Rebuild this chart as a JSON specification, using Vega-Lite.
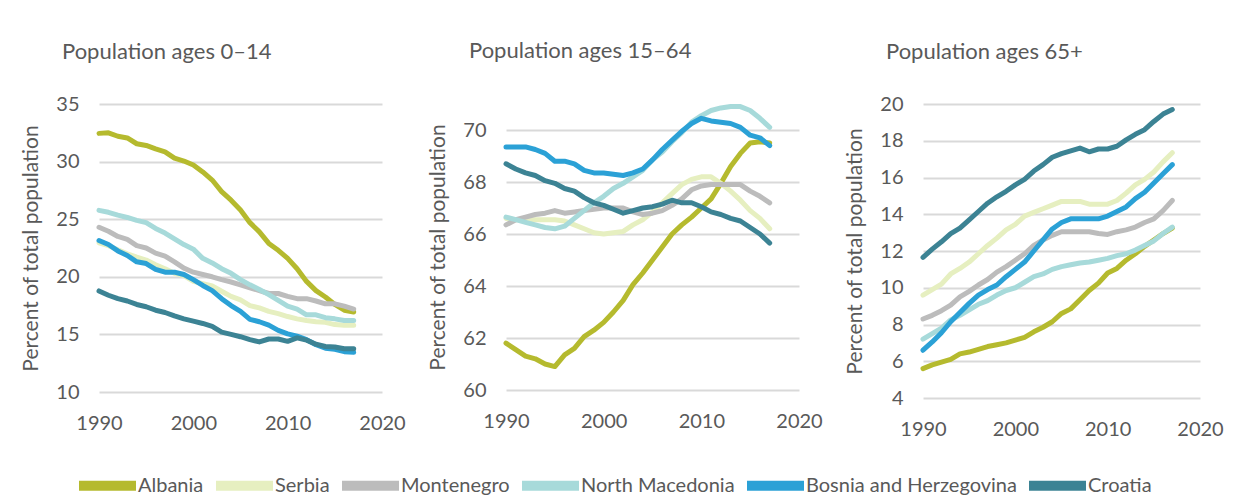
{
"$schema":"https://vega.github.io/schema/vega-lite/v6.json",
"background":"white",
"padding":{"left":20,"top":40,"right":5,"bottom":5},
"datasets":{"d":[
{"p":"a","c":"Albania","y":1990,"v":32.45},{"p":"a","c":"Albania","y":1991,"v":32.5},{"p":"a","c":"Albania","y":1992,"v":32.2},{"p":"a","c":"Albania","y":1993,"v":32.05},{"p":"a","c":"Albania","y":1994,"v":31.55},{"p":"a","c":"Albania","y":1995,"v":31.4},{"p":"a","c":"Albania","y":1996,"v":31.1},{"p":"a","c":"Albania","y":1997,"v":30.85},{"p":"a","c":"Albania","y":1998,"v":30.3},{"p":"a","c":"Albania","y":1999,"v":30.05},{"p":"a","c":"Albania","y":2000,"v":29.7},{"p":"a","c":"Albania","y":2001,"v":29.1},{"p":"a","c":"Albania","y":2002,"v":28.4},{"p":"a","c":"Albania","y":2003,"v":27.4},{"p":"a","c":"Albania","y":2004,"v":26.65},{"p":"a","c":"Albania","y":2005,"v":25.8},{"p":"a","c":"Albania","y":2006,"v":24.7},{"p":"a","c":"Albania","y":2007,"v":23.9},{"p":"a","c":"Albania","y":2008,"v":22.9},{"p":"a","c":"Albania","y":2009,"v":22.3},{"p":"a","c":"Albania","y":2010,"v":21.6},{"p":"a","c":"Albania","y":2011,"v":20.7},{"p":"a","c":"Albania","y":2012,"v":19.6},{"p":"a","c":"Albania","y":2013,"v":18.8},{"p":"a","c":"Albania","y":2014,"v":18.25},{"p":"a","c":"Albania","y":2015,"v":17.6},{"p":"a","c":"Albania","y":2016,"v":17.1},{"p":"a","c":"Albania","y":2017,"v":16.95},
{"p":"a","c":"Serbia","y":1990,"v":22.95},{"p":"a","c":"Serbia","y":1991,"v":22.7},{"p":"a","c":"Serbia","y":1992,"v":22.35},{"p":"a","c":"Serbia","y":1993,"v":22.0},{"p":"a","c":"Serbia","y":1994,"v":21.7},{"p":"a","c":"Serbia","y":1995,"v":21.45},{"p":"a","c":"Serbia","y":1996,"v":21.05},{"p":"a","c":"Serbia","y":1997,"v":20.7},{"p":"a","c":"Serbia","y":1998,"v":20.3},{"p":"a","c":"Serbia","y":1999,"v":20.1},{"p":"a","c":"Serbia","y":2000,"v":19.6},{"p":"a","c":"Serbia","y":2001,"v":19.4},{"p":"a","c":"Serbia","y":2002,"v":19.2},{"p":"a","c":"Serbia","y":2003,"v":18.75},{"p":"a","c":"Serbia","y":2004,"v":18.3},{"p":"a","c":"Serbia","y":2005,"v":18.0},{"p":"a","c":"Serbia","y":2006,"v":17.5},{"p":"a","c":"Serbia","y":2007,"v":17.3},{"p":"a","c":"Serbia","y":2008,"v":17.0},{"p":"a","c":"Serbia","y":2009,"v":16.8},{"p":"a","c":"Serbia","y":2010,"v":16.55},{"p":"a","c":"Serbia","y":2011,"v":16.35},{"p":"a","c":"Serbia","y":2012,"v":16.2},{"p":"a","c":"Serbia","y":2013,"v":16.1},{"p":"a","c":"Serbia","y":2014,"v":16.05},{"p":"a","c":"Serbia","y":2015,"v":15.85},{"p":"a","c":"Serbia","y":2016,"v":15.8},{"p":"a","c":"Serbia","y":2017,"v":15.8},
{"p":"a","c":"Montenegro","y":1990,"v":24.3},{"p":"a","c":"Montenegro","y":1991,"v":23.95},{"p":"a","c":"Montenegro","y":1992,"v":23.5},{"p":"a","c":"Montenegro","y":1993,"v":23.25},{"p":"a","c":"Montenegro","y":1994,"v":22.7},{"p":"a","c":"Montenegro","y":1995,"v":22.5},{"p":"a","c":"Montenegro","y":1996,"v":22.05},{"p":"a","c":"Montenegro","y":1997,"v":21.8},{"p":"a","c":"Montenegro","y":1998,"v":21.3},{"p":"a","c":"Montenegro","y":1999,"v":20.75},{"p":"a","c":"Montenegro","y":2000,"v":20.4},{"p":"a","c":"Montenegro","y":2001,"v":20.2},{"p":"a","c":"Montenegro","y":2002,"v":20.0},{"p":"a","c":"Montenegro","y":2003,"v":19.75},{"p":"a","c":"Montenegro","y":2004,"v":19.55},{"p":"a","c":"Montenegro","y":2005,"v":19.3},{"p":"a","c":"Montenegro","y":2006,"v":19.05},{"p":"a","c":"Montenegro","y":2007,"v":18.8},{"p":"a","c":"Montenegro","y":2008,"v":18.55},{"p":"a","c":"Montenegro","y":2009,"v":18.55},{"p":"a","c":"Montenegro","y":2010,"v":18.3},{"p":"a","c":"Montenegro","y":2011,"v":18.1},{"p":"a","c":"Montenegro","y":2012,"v":18.1},{"p":"a","c":"Montenegro","y":2013,"v":17.9},{"p":"a","c":"Montenegro","y":2014,"v":17.65},{"p":"a","c":"Montenegro","y":2015,"v":17.65},{"p":"a","c":"Montenegro","y":2016,"v":17.45},{"p":"a","c":"Montenegro","y":2017,"v":17.2},
{"p":"a","c":"North Macedonia","y":1990,"v":25.77},{"p":"a","c":"North Macedonia","y":1991,"v":25.6},{"p":"a","c":"North Macedonia","y":1992,"v":25.35},{"p":"a","c":"North Macedonia","y":1993,"v":25.15},{"p":"a","c":"North Macedonia","y":1994,"v":24.9},{"p":"a","c":"North Macedonia","y":1995,"v":24.7},{"p":"a","c":"North Macedonia","y":1996,"v":24.2},{"p":"a","c":"North Macedonia","y":1997,"v":23.8},{"p":"a","c":"North Macedonia","y":1998,"v":23.3},{"p":"a","c":"North Macedonia","y":1999,"v":22.8},{"p":"a","c":"North Macedonia","y":2000,"v":22.4},{"p":"a","c":"North Macedonia","y":2001,"v":21.6},{"p":"a","c":"North Macedonia","y":2002,"v":21.2},{"p":"a","c":"North Macedonia","y":2003,"v":20.7},{"p":"a","c":"North Macedonia","y":2004,"v":20.3},{"p":"a","c":"North Macedonia","y":2005,"v":19.75},{"p":"a","c":"North Macedonia","y":2006,"v":19.3},{"p":"a","c":"North Macedonia","y":2007,"v":18.9},{"p":"a","c":"North Macedonia","y":2008,"v":18.45},{"p":"a","c":"North Macedonia","y":2009,"v":17.95},{"p":"a","c":"North Macedonia","y":2010,"v":17.45},{"p":"a","c":"North Macedonia","y":2011,"v":17.2},{"p":"a","c":"North Macedonia","y":2012,"v":16.7},{"p":"a","c":"North Macedonia","y":2013,"v":16.7},{"p":"a","c":"North Macedonia","y":2014,"v":16.45},{"p":"a","c":"North Macedonia","y":2015,"v":16.35},{"p":"a","c":"North Macedonia","y":2016,"v":16.2},{"p":"a","c":"North Macedonia","y":2017,"v":16.2},
{"p":"a","c":"Bosnia and Herzegovina","y":1990,"v":23.15},{"p":"a","c":"Bosnia and Herzegovina","y":1991,"v":22.8},{"p":"a","c":"Bosnia and Herzegovina","y":1992,"v":22.25},{"p":"a","c":"Bosnia and Herzegovina","y":1993,"v":21.85},{"p":"a","c":"Bosnia and Herzegovina","y":1994,"v":21.3},{"p":"a","c":"Bosnia and Herzegovina","y":1995,"v":21.15},{"p":"a","c":"Bosnia and Herzegovina","y":1996,"v":20.65},{"p":"a","c":"Bosnia and Herzegovina","y":1997,"v":20.4},{"p":"a","c":"Bosnia and Herzegovina","y":1998,"v":20.4},{"p":"a","c":"Bosnia and Herzegovina","y":1999,"v":20.2},{"p":"a","c":"Bosnia and Herzegovina","y":2000,"v":19.75},{"p":"a","c":"Bosnia and Herzegovina","y":2001,"v":19.25},{"p":"a","c":"Bosnia and Herzegovina","y":2002,"v":18.8},{"p":"a","c":"Bosnia and Herzegovina","y":2003,"v":18.1},{"p":"a","c":"Bosnia and Herzegovina","y":2004,"v":17.5},{"p":"a","c":"Bosnia and Herzegovina","y":2005,"v":17.0},{"p":"a","c":"Bosnia and Herzegovina","y":2006,"v":16.3},{"p":"a","c":"Bosnia and Herzegovina","y":2007,"v":16.1},{"p":"a","c":"Bosnia and Herzegovina","y":2008,"v":15.8},{"p":"a","c":"Bosnia and Herzegovina","y":2009,"v":15.35},{"p":"a","c":"Bosnia and Herzegovina","y":2010,"v":15.05},{"p":"a","c":"Bosnia and Herzegovina","y":2011,"v":14.85},{"p":"a","c":"Bosnia and Herzegovina","y":2012,"v":14.55},{"p":"a","c":"Bosnia and Herzegovina","y":2013,"v":14.1},{"p":"a","c":"Bosnia and Herzegovina","y":2014,"v":13.8},{"p":"a","c":"Bosnia and Herzegovina","y":2015,"v":13.7},{"p":"a","c":"Bosnia and Herzegovina","y":2016,"v":13.5},{"p":"a","c":"Bosnia and Herzegovina","y":2017,"v":13.45},
{"p":"a","c":"Croatia","y":1990,"v":18.77},{"p":"a","c":"Croatia","y":1991,"v":18.4},{"p":"a","c":"Croatia","y":1992,"v":18.1},{"p":"a","c":"Croatia","y":1993,"v":17.9},{"p":"a","c":"Croatia","y":1994,"v":17.6},{"p":"a","c":"Croatia","y":1995,"v":17.4},{"p":"a","c":"Croatia","y":1996,"v":17.1},{"p":"a","c":"Croatia","y":1997,"v":16.9},{"p":"a","c":"Croatia","y":1998,"v":16.6},{"p":"a","c":"Croatia","y":1999,"v":16.35},{"p":"a","c":"Croatia","y":2000,"v":16.15},{"p":"a","c":"Croatia","y":2001,"v":15.95},{"p":"a","c":"Croatia","y":2002,"v":15.7},{"p":"a","c":"Croatia","y":2003,"v":15.2},{"p":"a","c":"Croatia","y":2004,"v":15.0},{"p":"a","c":"Croatia","y":2005,"v":14.8},{"p":"a","c":"Croatia","y":2006,"v":14.55},{"p":"a","c":"Croatia","y":2007,"v":14.35},{"p":"a","c":"Croatia","y":2008,"v":14.6},{"p":"a","c":"Croatia","y":2009,"v":14.6},{"p":"a","c":"Croatia","y":2010,"v":14.4},{"p":"a","c":"Croatia","y":2011,"v":14.7},{"p":"a","c":"Croatia","y":2012,"v":14.5},{"p":"a","c":"Croatia","y":2013,"v":14.15},{"p":"a","c":"Croatia","y":2014,"v":13.95},{"p":"a","c":"Croatia","y":2015,"v":13.9},{"p":"a","c":"Croatia","y":2016,"v":13.75},{"p":"a","c":"Croatia","y":2017,"v":13.75},
{"p":"b","c":"Albania","y":1990,"v":61.8},{"p":"b","c":"Albania","y":1991,"v":61.55},{"p":"b","c":"Albania","y":1992,"v":61.3},{"p":"b","c":"Albania","y":1993,"v":61.2},{"p":"b","c":"Albania","y":1994,"v":61.0},{"p":"b","c":"Albania","y":1995,"v":60.9},{"p":"b","c":"Albania","y":1996,"v":61.35},{"p":"b","c":"Albania","y":1997,"v":61.6},{"p":"b","c":"Albania","y":1998,"v":62.05},{"p":"b","c":"Albania","y":1999,"v":62.3},{"p":"b","c":"Albania","y":2000,"v":62.6},{"p":"b","c":"Albania","y":2001,"v":63.0},{"p":"b","c":"Albania","y":2002,"v":63.45},{"p":"b","c":"Albania","y":2003,"v":64.05},{"p":"b","c":"Albania","y":2004,"v":64.5},{"p":"b","c":"Albania","y":2005,"v":65.0},{"p":"b","c":"Albania","y":2006,"v":65.5},{"p":"b","c":"Albania","y":2007,"v":66.0},{"p":"b","c":"Albania","y":2008,"v":66.35},{"p":"b","c":"Albania","y":2009,"v":66.65},{"p":"b","c":"Albania","y":2010,"v":67.0},{"p":"b","c":"Albania","y":2011,"v":67.35},{"p":"b","c":"Albania","y":2012,"v":67.95},{"p":"b","c":"Albania","y":2013,"v":68.6},{"p":"b","c":"Albania","y":2014,"v":69.1},{"p":"b","c":"Albania","y":2015,"v":69.5},{"p":"b","c":"Albania","y":2016,"v":69.55},{"p":"b","c":"Albania","y":2017,"v":69.5},
{"p":"b","c":"Serbia","y":1990,"v":66.6},{"p":"b","c":"Serbia","y":1991,"v":66.55},{"p":"b","c":"Serbia","y":1992,"v":66.55},{"p":"b","c":"Serbia","y":1993,"v":66.55},{"p":"b","c":"Serbia","y":1994,"v":66.55},{"p":"b","c":"Serbia","y":1995,"v":66.55},{"p":"b","c":"Serbia","y":1996,"v":66.5},{"p":"b","c":"Serbia","y":1997,"v":66.35},{"p":"b","c":"Serbia","y":1998,"v":66.2},{"p":"b","c":"Serbia","y":1999,"v":66.05},{"p":"b","c":"Serbia","y":2000,"v":66.0},{"p":"b","c":"Serbia","y":2001,"v":66.05},{"p":"b","c":"Serbia","y":2002,"v":66.1},{"p":"b","c":"Serbia","y":2003,"v":66.35},{"p":"b","c":"Serbia","y":2004,"v":66.55},{"p":"b","c":"Serbia","y":2005,"v":66.85},{"p":"b","c":"Serbia","y":2006,"v":67.2},{"p":"b","c":"Serbia","y":2007,"v":67.55},{"p":"b","c":"Serbia","y":2008,"v":67.9},{"p":"b","c":"Serbia","y":2009,"v":68.1},{"p":"b","c":"Serbia","y":2010,"v":68.2},{"p":"b","c":"Serbia","y":2011,"v":68.2},{"p":"b","c":"Serbia","y":2012,"v":67.95},{"p":"b","c":"Serbia","y":2013,"v":67.65},{"p":"b","c":"Serbia","y":2014,"v":67.3},{"p":"b","c":"Serbia","y":2015,"v":66.9},{"p":"b","c":"Serbia","y":2016,"v":66.6},{"p":"b","c":"Serbia","y":2017,"v":66.2},
{"p":"b","c":"Montenegro","y":1990,"v":66.35},{"p":"b","c":"Montenegro","y":1991,"v":66.55},{"p":"b","c":"Montenegro","y":1992,"v":66.65},{"p":"b","c":"Montenegro","y":1993,"v":66.75},{"p":"b","c":"Montenegro","y":1994,"v":66.8},{"p":"b","c":"Montenegro","y":1995,"v":66.9},{"p":"b","c":"Montenegro","y":1996,"v":66.8},{"p":"b","c":"Montenegro","y":1997,"v":66.85},{"p":"b","c":"Montenegro","y":1998,"v":66.9},{"p":"b","c":"Montenegro","y":1999,"v":66.95},{"p":"b","c":"Montenegro","y":2000,"v":67.0},{"p":"b","c":"Montenegro","y":2001,"v":67.0},{"p":"b","c":"Montenegro","y":2002,"v":67.0},{"p":"b","c":"Montenegro","y":2003,"v":66.85},{"p":"b","c":"Montenegro","y":2004,"v":66.75},{"p":"b","c":"Montenegro","y":2005,"v":66.8},{"p":"b","c":"Montenegro","y":2006,"v":66.9},{"p":"b","c":"Montenegro","y":2007,"v":67.1},{"p":"b","c":"Montenegro","y":2008,"v":67.35},{"p":"b","c":"Montenegro","y":2009,"v":67.7},{"p":"b","c":"Montenegro","y":2010,"v":67.85},{"p":"b","c":"Montenegro","y":2011,"v":67.9},{"p":"b","c":"Montenegro","y":2012,"v":67.9},{"p":"b","c":"Montenegro","y":2013,"v":67.9},{"p":"b","c":"Montenegro","y":2014,"v":67.9},{"p":"b","c":"Montenegro","y":2015,"v":67.65},{"p":"b","c":"Montenegro","y":2016,"v":67.45},{"p":"b","c":"Montenegro","y":2017,"v":67.2},
{"p":"b","c":"North Macedonia","y":1990,"v":66.65},{"p":"b","c":"North Macedonia","y":1991,"v":66.55},{"p":"b","c":"North Macedonia","y":1992,"v":66.45},{"p":"b","c":"North Macedonia","y":1993,"v":66.35},{"p":"b","c":"North Macedonia","y":1994,"v":66.25},{"p":"b","c":"North Macedonia","y":1995,"v":66.2},{"p":"b","c":"North Macedonia","y":1996,"v":66.3},{"p":"b","c":"North Macedonia","y":1997,"v":66.6},{"p":"b","c":"North Macedonia","y":1998,"v":66.9},{"p":"b","c":"North Macedonia","y":1999,"v":67.2},{"p":"b","c":"North Macedonia","y":2000,"v":67.45},{"p":"b","c":"North Macedonia","y":2001,"v":67.75},{"p":"b","c":"North Macedonia","y":2002,"v":67.95},{"p":"b","c":"North Macedonia","y":2003,"v":68.2},{"p":"b","c":"North Macedonia","y":2004,"v":68.45},{"p":"b","c":"North Macedonia","y":2005,"v":68.85},{"p":"b","c":"North Macedonia","y":2006,"v":69.15},{"p":"b","c":"North Macedonia","y":2007,"v":69.55},{"p":"b","c":"North Macedonia","y":2008,"v":69.9},{"p":"b","c":"North Macedonia","y":2009,"v":70.3},{"p":"b","c":"North Macedonia","y":2010,"v":70.55},{"p":"b","c":"North Macedonia","y":2011,"v":70.75},{"p":"b","c":"North Macedonia","y":2012,"v":70.85},{"p":"b","c":"North Macedonia","y":2013,"v":70.9},{"p":"b","c":"North Macedonia","y":2014,"v":70.9},{"p":"b","c":"North Macedonia","y":2015,"v":70.75},{"p":"b","c":"North Macedonia","y":2016,"v":70.45},{"p":"b","c":"North Macedonia","y":2017,"v":70.1},
{"p":"b","c":"Bosnia and Herzegovina","y":1990,"v":69.35},{"p":"b","c":"Bosnia and Herzegovina","y":1991,"v":69.35},{"p":"b","c":"Bosnia and Herzegovina","y":1992,"v":69.35},{"p":"b","c":"Bosnia and Herzegovina","y":1993,"v":69.25},{"p":"b","c":"Bosnia and Herzegovina","y":1994,"v":69.1},{"p":"b","c":"Bosnia and Herzegovina","y":1995,"v":68.8},{"p":"b","c":"Bosnia and Herzegovina","y":1996,"v":68.8},{"p":"b","c":"Bosnia and Herzegovina","y":1997,"v":68.7},{"p":"b","c":"Bosnia and Herzegovina","y":1998,"v":68.45},{"p":"b","c":"Bosnia and Herzegovina","y":1999,"v":68.35},{"p":"b","c":"Bosnia and Herzegovina","y":2000,"v":68.35},{"p":"b","c":"Bosnia and Herzegovina","y":2001,"v":68.3},{"p":"b","c":"Bosnia and Herzegovina","y":2002,"v":68.25},{"p":"b","c":"Bosnia and Herzegovina","y":2003,"v":68.35},{"p":"b","c":"Bosnia and Herzegovina","y":2004,"v":68.5},{"p":"b","c":"Bosnia and Herzegovina","y":2005,"v":68.85},{"p":"b","c":"Bosnia and Herzegovina","y":2006,"v":69.25},{"p":"b","c":"Bosnia and Herzegovina","y":2007,"v":69.6},{"p":"b","c":"Bosnia and Herzegovina","y":2008,"v":69.95},{"p":"b","c":"Bosnia and Herzegovina","y":2009,"v":70.25},{"p":"b","c":"Bosnia and Herzegovina","y":2010,"v":70.45},{"p":"b","c":"Bosnia and Herzegovina","y":2011,"v":70.35},{"p":"b","c":"Bosnia and Herzegovina","y":2012,"v":70.3},{"p":"b","c":"Bosnia and Herzegovina","y":2013,"v":70.25},{"p":"b","c":"Bosnia and Herzegovina","y":2014,"v":70.1},{"p":"b","c":"Bosnia and Herzegovina","y":2015,"v":69.8},{"p":"b","c":"Bosnia and Herzegovina","y":2016,"v":69.7},{"p":"b","c":"Bosnia and Herzegovina","y":2017,"v":69.4},
{"p":"b","c":"Croatia","y":1990,"v":68.7},{"p":"b","c":"Croatia","y":1991,"v":68.5},{"p":"b","c":"Croatia","y":1992,"v":68.35},{"p":"b","c":"Croatia","y":1993,"v":68.25},{"p":"b","c":"Croatia","y":1994,"v":68.05},{"p":"b","c":"Croatia","y":1995,"v":67.95},{"p":"b","c":"Croatia","y":1996,"v":67.75},{"p":"b","c":"Croatia","y":1997,"v":67.65},{"p":"b","c":"Croatia","y":1998,"v":67.4},{"p":"b","c":"Croatia","y":1999,"v":67.2},{"p":"b","c":"Croatia","y":2000,"v":67.1},{"p":"b","c":"Croatia","y":2001,"v":66.95},{"p":"b","c":"Croatia","y":2002,"v":66.8},{"p":"b","c":"Croatia","y":2003,"v":66.9},{"p":"b","c":"Croatia","y":2004,"v":67.0},{"p":"b","c":"Croatia","y":2005,"v":67.05},{"p":"b","c":"Croatia","y":2006,"v":67.15},{"p":"b","c":"Croatia","y":2007,"v":67.3},{"p":"b","c":"Croatia","y":2008,"v":67.2},{"p":"b","c":"Croatia","y":2009,"v":67.2},{"p":"b","c":"Croatia","y":2010,"v":67.05},{"p":"b","c":"Croatia","y":2011,"v":66.85},{"p":"b","c":"Croatia","y":2012,"v":66.75},{"p":"b","c":"Croatia","y":2013,"v":66.6},{"p":"b","c":"Croatia","y":2014,"v":66.5},{"p":"b","c":"Croatia","y":2015,"v":66.25},{"p":"b","c":"Croatia","y":2016,"v":66.0},{"p":"b","c":"Croatia","y":2017,"v":65.65},
{"p":"c","c":"Albania","y":1990,"v":5.6},{"p":"c","c":"Albania","y":1991,"v":5.8},{"p":"c","c":"Albania","y":1992,"v":5.95},{"p":"c","c":"Albania","y":1993,"v":6.1},{"p":"c","c":"Albania","y":1994,"v":6.4},{"p":"c","c":"Albania","y":1995,"v":6.5},{"p":"c","c":"Albania","y":1996,"v":6.65},{"p":"c","c":"Albania","y":1997,"v":6.8},{"p":"c","c":"Albania","y":1998,"v":6.9},{"p":"c","c":"Albania","y":1999,"v":7.0},{"p":"c","c":"Albania","y":2000,"v":7.15},{"p":"c","c":"Albania","y":2001,"v":7.3},{"p":"c","c":"Albania","y":2002,"v":7.6},{"p":"c","c":"Albania","y":2003,"v":7.85},{"p":"c","c":"Albania","y":2004,"v":8.15},{"p":"c","c":"Albania","y":2005,"v":8.6},{"p":"c","c":"Albania","y":2006,"v":8.85},{"p":"c","c":"Albania","y":2007,"v":9.35},{"p":"c","c":"Albania","y":2008,"v":9.85},{"p":"c","c":"Albania","y":2009,"v":10.25},{"p":"c","c":"Albania","y":2010,"v":10.8},{"p":"c","c":"Albania","y":2011,"v":11.05},{"p":"c","c":"Albania","y":2012,"v":11.5},{"p":"c","c":"Albania","y":2013,"v":11.85},{"p":"c","c":"Albania","y":2014,"v":12.25},{"p":"c","c":"Albania","y":2015,"v":12.6},{"p":"c","c":"Albania","y":2016,"v":12.95},{"p":"c","c":"Albania","y":2017,"v":13.25},
{"p":"c","c":"Serbia","y":1990,"v":9.6},{"p":"c","c":"Serbia","y":1991,"v":9.9},{"p":"c","c":"Serbia","y":1992,"v":10.2},{"p":"c","c":"Serbia","y":1993,"v":10.75},{"p":"c","c":"Serbia","y":1994,"v":11.05},{"p":"c","c":"Serbia","y":1995,"v":11.4},{"p":"c","c":"Serbia","y":1996,"v":11.85},{"p":"c","c":"Serbia","y":1997,"v":12.3},{"p":"c","c":"Serbia","y":1998,"v":12.7},{"p":"c","c":"Serbia","y":1999,"v":13.15},{"p":"c","c":"Serbia","y":2000,"v":13.45},{"p":"c","c":"Serbia","y":2001,"v":13.9},{"p":"c","c":"Serbia","y":2002,"v":14.1},{"p":"c","c":"Serbia","y":2003,"v":14.3},{"p":"c","c":"Serbia","y":2004,"v":14.5},{"p":"c","c":"Serbia","y":2005,"v":14.7},{"p":"c","c":"Serbia","y":2006,"v":14.7},{"p":"c","c":"Serbia","y":2007,"v":14.7},{"p":"c","c":"Serbia","y":2008,"v":14.55},{"p":"c","c":"Serbia","y":2009,"v":14.55},{"p":"c","c":"Serbia","y":2010,"v":14.55},{"p":"c","c":"Serbia","y":2011,"v":14.75},{"p":"c","c":"Serbia","y":2012,"v":15.15},{"p":"c","c":"Serbia","y":2013,"v":15.6},{"p":"c","c":"Serbia","y":2014,"v":15.9},{"p":"c","c":"Serbia","y":2015,"v":16.3},{"p":"c","c":"Serbia","y":2016,"v":16.85},{"p":"c","c":"Serbia","y":2017,"v":17.35},
{"p":"c","c":"Montenegro","y":1990,"v":8.3},{"p":"c","c":"Montenegro","y":1991,"v":8.5},{"p":"c","c":"Montenegro","y":1992,"v":8.75},{"p":"c","c":"Montenegro","y":1993,"v":9.05},{"p":"c","c":"Montenegro","y":1994,"v":9.5},{"p":"c","c":"Montenegro","y":1995,"v":9.8},{"p":"c","c":"Montenegro","y":1996,"v":10.15},{"p":"c","c":"Montenegro","y":1997,"v":10.45},{"p":"c","c":"Montenegro","y":1998,"v":10.85},{"p":"c","c":"Montenegro","y":1999,"v":11.15},{"p":"c","c":"Montenegro","y":2000,"v":11.5},{"p":"c","c":"Montenegro","y":2001,"v":11.85},{"p":"c","c":"Montenegro","y":2002,"v":12.3},{"p":"c","c":"Montenegro","y":2003,"v":12.6},{"p":"c","c":"Montenegro","y":2004,"v":12.85},{"p":"c","c":"Montenegro","y":2005,"v":13.05},{"p":"c","c":"Montenegro","y":2006,"v":13.05},{"p":"c","c":"Montenegro","y":2007,"v":13.05},{"p":"c","c":"Montenegro","y":2008,"v":13.05},{"p":"c","c":"Montenegro","y":2009,"v":12.95},{"p":"c","c":"Montenegro","y":2010,"v":12.9},{"p":"c","c":"Montenegro","y":2011,"v":13.05},{"p":"c","c":"Montenegro","y":2012,"v":13.15},{"p":"c","c":"Montenegro","y":2013,"v":13.3},{"p":"c","c":"Montenegro","y":2014,"v":13.55},{"p":"c","c":"Montenegro","y":2015,"v":13.75},{"p":"c","c":"Montenegro","y":2016,"v":14.2},{"p":"c","c":"Montenegro","y":2017,"v":14.75},
{"p":"c","c":"North Macedonia","y":1990,"v":7.2},{"p":"c","c":"North Macedonia","y":1991,"v":7.5},{"p":"c","c":"North Macedonia","y":1992,"v":7.8},{"p":"c","c":"North Macedonia","y":1993,"v":8.25},{"p":"c","c":"North Macedonia","y":1994,"v":8.5},{"p":"c","c":"North Macedonia","y":1995,"v":8.8},{"p":"c","c":"North Macedonia","y":1996,"v":9.1},{"p":"c","c":"North Macedonia","y":1997,"v":9.3},{"p":"c","c":"North Macedonia","y":1998,"v":9.6},{"p":"c","c":"North Macedonia","y":1999,"v":9.85},{"p":"c","c":"North Macedonia","y":2000,"v":10.0},{"p":"c","c":"North Macedonia","y":2001,"v":10.3},{"p":"c","c":"North Macedonia","y":2002,"v":10.6},{"p":"c","c":"North Macedonia","y":2003,"v":10.75},{"p":"c","c":"North Macedonia","y":2004,"v":11.0},{"p":"c","c":"North Macedonia","y":2005,"v":11.15},{"p":"c","c":"North Macedonia","y":2006,"v":11.25},{"p":"c","c":"North Macedonia","y":2007,"v":11.35},{"p":"c","c":"North Macedonia","y":2008,"v":11.4},{"p":"c","c":"North Macedonia","y":2009,"v":11.5},{"p":"c","c":"North Macedonia","y":2010,"v":11.6},{"p":"c","c":"North Macedonia","y":2011,"v":11.75},{"p":"c","c":"North Macedonia","y":2012,"v":11.85},{"p":"c","c":"North Macedonia","y":2013,"v":12.05},{"p":"c","c":"North Macedonia","y":2014,"v":12.3},{"p":"c","c":"North Macedonia","y":2015,"v":12.55},{"p":"c","c":"North Macedonia","y":2016,"v":12.95},{"p":"c","c":"North Macedonia","y":2017,"v":13.3},
{"p":"c","c":"Bosnia and Herzegovina","y":1990,"v":6.6},{"p":"c","c":"Bosnia and Herzegovina","y":1991,"v":7.05},{"p":"c","c":"Bosnia and Herzegovina","y":1992,"v":7.55},{"p":"c","c":"Bosnia and Herzegovina","y":1993,"v":8.15},{"p":"c","c":"Bosnia and Herzegovina","y":1994,"v":8.65},{"p":"c","c":"Bosnia and Herzegovina","y":1995,"v":9.15},{"p":"c","c":"Bosnia and Herzegovina","y":1996,"v":9.6},{"p":"c","c":"Bosnia and Herzegovina","y":1997,"v":9.9},{"p":"c","c":"Bosnia and Herzegovina","y":1998,"v":10.15},{"p":"c","c":"Bosnia and Herzegovina","y":1999,"v":10.6},{"p":"c","c":"Bosnia and Herzegovina","y":2000,"v":11.0},{"p":"c","c":"Bosnia and Herzegovina","y":2001,"v":11.4},{"p":"c","c":"Bosnia and Herzegovina","y":2002,"v":12.0},{"p":"c","c":"Bosnia and Herzegovina","y":2003,"v":12.6},{"p":"c","c":"Bosnia and Herzegovina","y":2004,"v":13.2},{"p":"c","c":"Bosnia and Herzegovina","y":2005,"v":13.55},{"p":"c","c":"Bosnia and Herzegovina","y":2006,"v":13.75},{"p":"c","c":"Bosnia and Herzegovina","y":2007,"v":13.75},{"p":"c","c":"Bosnia and Herzegovina","y":2008,"v":13.75},{"p":"c","c":"Bosnia and Herzegovina","y":2009,"v":13.75},{"p":"c","c":"Bosnia and Herzegovina","y":2010,"v":13.9},{"p":"c","c":"Bosnia and Herzegovina","y":2011,"v":14.15},{"p":"c","c":"Bosnia and Herzegovina","y":2012,"v":14.4},{"p":"c","c":"Bosnia and Herzegovina","y":2013,"v":14.85},{"p":"c","c":"Bosnia and Herzegovina","y":2014,"v":15.2},{"p":"c","c":"Bosnia and Herzegovina","y":2015,"v":15.7},{"p":"c","c":"Bosnia and Herzegovina","y":2016,"v":16.2},{"p":"c","c":"Bosnia and Herzegovina","y":2017,"v":16.7},
{"p":"c","c":"Croatia","y":1990,"v":11.65},{"p":"c","c":"Croatia","y":1991,"v":12.1},{"p":"c","c":"Croatia","y":1992,"v":12.5},{"p":"c","c":"Croatia","y":1993,"v":12.95},{"p":"c","c":"Croatia","y":1994,"v":13.25},{"p":"c","c":"Croatia","y":1995,"v":13.7},{"p":"c","c":"Croatia","y":1996,"v":14.15},{"p":"c","c":"Croatia","y":1997,"v":14.6},{"p":"c","c":"Croatia","y":1998,"v":14.95},{"p":"c","c":"Croatia","y":1999,"v":15.25},{"p":"c","c":"Croatia","y":2000,"v":15.6},{"p":"c","c":"Croatia","y":2001,"v":15.9},{"p":"c","c":"Croatia","y":2002,"v":16.35},{"p":"c","c":"Croatia","y":2003,"v":16.7},{"p":"c","c":"Croatia","y":2004,"v":17.1},{"p":"c","c":"Croatia","y":2005,"v":17.3},{"p":"c","c":"Croatia","y":2006,"v":17.45},{"p":"c","c":"Croatia","y":2007,"v":17.6},{"p":"c","c":"Croatia","y":2008,"v":17.4},{"p":"c","c":"Croatia","y":2009,"v":17.55},{"p":"c","c":"Croatia","y":2010,"v":17.55},{"p":"c","c":"Croatia","y":2011,"v":17.7},{"p":"c","c":"Croatia","y":2012,"v":18.05},{"p":"c","c":"Croatia","y":2013,"v":18.35},{"p":"c","c":"Croatia","y":2014,"v":18.6},{"p":"c","c":"Croatia","y":2015,"v":19.05},{"p":"c","c":"Croatia","y":2016,"v":19.45},{"p":"c","c":"Croatia","y":2017,"v":19.7}
]},
"data":{"name":"d"},
"spacing":124,
"bounds":"flush",
"hconcat":[
{"title":{"text":"Population ages 0–14","offset":30},"width":283,"height":288,
 "transform":[{"filter":"datum.p === 'a'"}],
 "mark":{"type":"line","strokeWidth":5,"strokeCap":"round","strokeJoin":"round"},
 "encoding":{
  "x":{"field":"y","type":"quantitative","scale":{"domain":[1990,2020],"nice":false,"zero":false},"axis":{"values":[1990,2000,2010,2020],"format":"d","title":null}},
  "y":{"field":"v","type":"quantitative","scale":{"domain":[10,35],"nice":false,"zero":false},"axis":{"values":[10,15,20,25,30,35],"title":"Percent of total population"}},
  "color":{"field":"c","type":"nominal","scale":{"domain":["Albania","Serbia","Montenegro","North Macedonia","Bosnia and Herzegovina","Croatia"],"range":["#b5ba2e","#e6efc0","#bcbcbc","#a7dada","#2ba1d6","#3c8394"]},"legend":{"title":null,"orient":"none","legendX":-25,"legendY":348}}
 }},
{"title":{"text":"Population ages 15–64","offset":41},"width":293,"height":286,
 "transform":[{"filter":"datum.p === 'b'"}],
 "mark":{"type":"line","strokeWidth":5,"strokeCap":"round","strokeJoin":"round"},
 "encoding":{
  "x":{"field":"y","type":"quantitative","scale":{"domain":[1990,2020],"nice":false,"zero":false},"axis":{"values":[1990,2000,2010,2020],"format":"d","title":null}},
  "y":{"field":"v","type":"quantitative","scale":{"domain":[60,71],"nice":false,"zero":false},"axis":{"values":[60,62,64,66,68,70],"title":"Percent of total population"}},
  "color":{"field":"c","type":"nominal","scale":{"domain":["Albania","Serbia","Montenegro","North Macedonia","Bosnia and Herzegovina","Croatia"],"range":["#b5ba2e","#e6efc0","#bcbcbc","#a7dada","#2ba1d6","#3c8394"]},"legend":{"title":null,"orient":"none","legendX":-25,"legendY":348}}
 }},
{"title":{"text":"Population ages 65+","offset":30},"width":277,"height":294,
 "transform":[{"filter":"datum.p === 'c'"}],
 "mark":{"type":"line","strokeWidth":5,"strokeCap":"round","strokeJoin":"round"},
 "encoding":{
  "x":{"field":"y","type":"quantitative","scale":{"domain":[1990,2020],"nice":false,"zero":false},"axis":{"values":[1990,2000,2010,2020],"format":"d","title":null}},
  "y":{"field":"v","type":"quantitative","scale":{"domain":[4,20],"nice":false,"zero":false},"axis":{"values":[4,6,8,10,12,14,16,18,20],"title":"Percent of total population"}},
  "color":{"field":"c","type":"nominal","scale":{"domain":["Albania","Serbia","Montenegro","North Macedonia","Bosnia and Herzegovina","Croatia"],"range":["#b5ba2e","#e6efc0","#bcbcbc","#a7dada","#2ba1d6","#3c8394"]},"legend":{"title":null,"orient":"none","legendX":-25,"legendY":348}}
 }}
],
"resolve":{"scale":{"y":"independent","x":"independent","color":"shared"}},
"config":{
 "font":"Lato",
 "view":{"stroke":null},
 "axis":{"labelFont":"Lato","labelFontSize":20,"labelColor":"#595959","titleFont":"Lato","titleFontSize":21,"titleColor":"#595959","titleFontWeight":"normal","domain":false,"ticks":false,"gridColor":"#d9d9d9","gridWidth":2,"labelFlush":false},
 "axisX":{"grid":false,"labelPadding":21},
 "axisY":{"labelPadding":20,"titlePadding":14},
 "title":{"font":"Lato","fontSize":22,"fontWeight":"normal","color":"#595959","anchor":"start","frame":"group","dx":-37,"baseline":"alphabetic"},
 "legend":{"direction":"horizontal","columns":6,"symbolType":"stroke","symbolSize":3249,"symbolStrokeWidth":10,"labelFont":"Lato","labelFontSize":20,"labelColor":"#595959","labelOffset":-3,"labelLimit":400,"columnPadding":-8,"padding":0}
}
}
